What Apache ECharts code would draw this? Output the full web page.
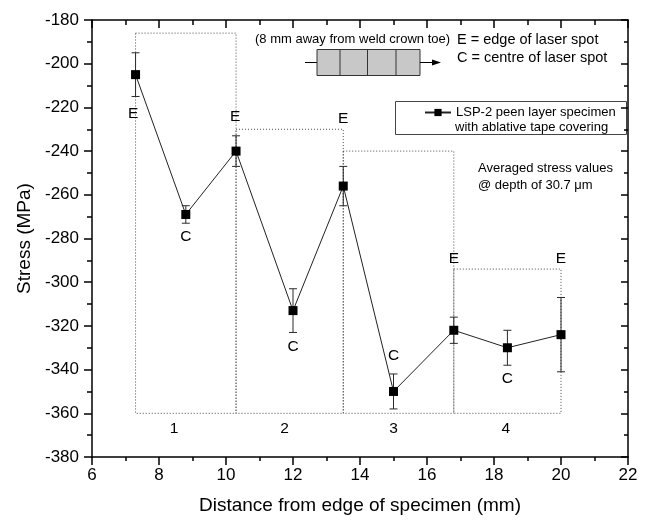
<!DOCTYPE html>
<html>
<head>
<meta charset="utf-8">
<script src="https://cdn.jsdelivr.net/npm/echarts@6/dist/echarts.min.js"></script>
<style>
  html, body { margin: 0; padding: 0; background: #fff; }
  #chart { width: 649px; height: 520px; }
</style>
</head>
<body>
<div id="chart"></div>
<script>
// Measurement positions (mm from specimen edge) and averaged stress (MPa)
const distance = [7.3, 8.8, 10.3, 12.0, 13.5, 15.0, 16.8, 18.4, 20.0];
const stress   = [-205, -269, -240, -313, -256, -350, -322, -330, -324];
const errUp    = [10, 4, 7, 10, 9, 8, 6, 8, 17];
const errDown  = [10, 4, 7, 10, 9, 8, 6, 8, 17];

// E = edge of laser spot, C = centre of laser spot (tag text and where it sits)
const tagText = ['E', 'C', 'E', 'C', 'E', 'C', 'E', 'C', 'E'];
const tagX    = [7.23, 8.8, 10.27, 12.0, 13.5, 15.0, 16.8, 18.4, 20.0];
const tagY    = [-223, -279, -224.3, -329.5, -225.4, -333.8, -289.4, -344, -289.1];

// Laser spot footprints (dotted boxes) and their numbers
const spotStart  = [7.3, 10.3, 13.5, 16.8];
const spotEnd    = [10.3, 13.5, 16.8, 20.0];
const spotTop    = [-186, -230, -240, -294];
const spotBottom = -360;
const spotName   = ['1', '2', '3', '4'];
const spotNameX  = [8.45, 11.75, 15.0, 18.35];
const spotNameY  = -367;

// Axis ranges
const xMin = 6, xMax = 22, xStep = 2;
const yMin = -380, yMax = -180, yStep = 20;

const seriesName = 'LSP-2 peen layer specimen';
const FONT = '"Liberation Sans", Arial, sans-serif';

const lineData = distance.map((d, i) => [d, stress[i]]);
const errData  = distance.map((d, i) => [d, stress[i] - errDown[i], stress[i] + errUp[i]]);
const tagData  = tagX.map((x, i) => [x, tagY[i]]);
const spotNameData = spotNameX.map(x => [x, spotNameY]);
const spotAreas = spotStart.map((s, i) => [
  { coord: [s, spotTop[i]] },
  { coord: [spotEnd[i], spotBottom] }
]);

const chart = echarts.init(document.getElementById('chart'), null, { renderer: 'canvas' });

const axisCommon = {
  axisLine: { show: true, onZero: false, lineStyle: { color: '#000', width: 1.5 } },
  splitLine: { show: false },
  minorSplitLine: { show: false }
};

function mainAxis(extra) {
  return Object.assign({}, axisCommon, extra);
}

const option = {
  animation: false,
  backgroundColor: '#fff',
  textStyle: { fontFamily: FONT },
  grid: { left: 92, right: 21, top: 20, bottom: 63, outerBoundsMode: 'none' },
  legend: {
    data: [seriesName],
    left: 424, top: 106,
    itemWidth: 26, itemHeight: 9, itemGap: 0, padding: 0,
    selectedMode: false,
    textStyle: { fontSize: 13, fontFamily: FONT, color: '#000' }
  },
  xAxis: [
    mainAxis({
      type: 'value', position: 'bottom', min: xMin, max: xMax, interval: xStep,
      name: 'Distance from edge of specimen (mm)', nameLocation: 'middle', nameGap: 39,
      nameTextStyle: { fontSize: 19, color: '#000', fontFamily: FONT },
      axisTick: { show: true, inside: false, length: 8, lineStyle: { color: '#000', width: 1.5 } },
      minorTick: { show: true, splitNumber: 2, length: 4, lineStyle: { color: '#000', width: 1.5 } },
      axisLabel: { show: true, margin: 10, fontSize: 17, color: '#000', fontFamily: FONT }
    }),
    mainAxis({
      type: 'value', position: 'top', min: xMin, max: xMax, interval: xStep,
      axisTick: { show: true, inside: true, length: 8, lineStyle: { color: '#000', width: 1.5 } },
      minorTick: { show: true, splitNumber: 2, length: 5, lineStyle: { color: '#000', width: 1.5 } },
      axisLabel: { show: false }
    })
  ],
  yAxis: [
    mainAxis({
      type: 'value', position: 'left', min: yMin, max: yMax, interval: yStep,
      name: 'Stress (MPa)', nameLocation: 'middle', nameGap: 57,
      nameTextStyle: { fontSize: 19, color: '#000', fontFamily: FONT },
      axisTick: { show: true, inside: false, length: 8, lineStyle: { color: '#000', width: 1.5 } },
      minorTick: { show: true, splitNumber: 2, length: 5, lineStyle: { color: '#000', width: 1.5 } },
      axisLabel: { show: true, margin: 13, fontSize: 17, color: '#000', fontFamily: FONT }
    }),
    mainAxis({
      type: 'value', position: 'right', min: yMin, max: yMax, interval: yStep,
      axisTick: { show: true, inside: true, length: 7, lineStyle: { color: '#000', width: 1.5 } },
      minorTick: { show: true, splitNumber: 2, length: 4, lineStyle: { color: '#000', width: 1.5 } },
      axisLabel: { show: false }
    })
  ],
  series: [
    {
      // dotted laser-spot footprints
      type: 'custom',
      name: 'spots',
      silent: true,
      xAxisIndex: 0, yAxisIndex: 0,
      data: [],
      renderItem: () => null,
      markArea: {
        silent: true,
        itemStyle: { color: 'rgba(0,0,0,0)', borderColor: '#4a4a4a', borderWidth: 1, borderType: [1, 2] },
        label: { show: false },
        data: spotAreas
      },
      z: 1
    },
    {
      // error bars
      type: 'custom',
      name: 'error',
      silent: true,
      data: errData,
      renderItem: (params, api) => {
        const x = api.value(0);
        const lo = api.coord([x, api.value(1)]);
        const hi = api.coord([x, api.value(2)]);
        const hw = 4;
        const st = { stroke: '#2a2a2a', lineWidth: 1 };
        return {
          type: 'group',
          children: [
            { type: 'line', shape: { x1: hi[0], y1: hi[1], x2: lo[0], y2: lo[1] }, style: st },
            { type: 'line', shape: { x1: hi[0] - hw, y1: hi[1], x2: hi[0] + hw, y2: hi[1] }, style: st },
            { type: 'line', shape: { x1: lo[0] - hw, y1: lo[1], x2: lo[0] + hw, y2: lo[1] }, style: st }
          ]
        };
      },
      z: 2
    },
    {
      type: 'line',
      name: seriesName,
      data: lineData,
      symbol: 'rect',
      symbolSize: 9,
      showSymbol: true,
      lineStyle: { color: '#222', width: 1 },
      itemStyle: { color: '#000', borderWidth: 0 },
      z: 3
    },
    {
      // E / C tags
      type: 'custom',
      name: 'tags',
      silent: true,
      data: tagData,
      renderItem: (params, api) => {
        const p = api.coord([api.value(0), api.value(1)]);
        return {
          type: 'text', x: p[0], y: p[1],
          style: { text: tagText[params.dataIndex], fill: '#000', fontSize: 15.5, fontFamily: FONT, align: 'center', verticalAlign: 'middle' }
        };
      },
      z: 4
    },
    {
      // spot numbers
      type: 'custom',
      name: 'spotNames',
      silent: true,
      data: spotNameData,
      renderItem: (params, api) => {
        const p = api.coord([api.value(0), api.value(1)]);
        return {
          type: 'text', x: p[0], y: p[1],
          style: { text: spotName[params.dataIndex], fill: '#000', fontSize: 15.5, fontFamily: FONT, align: 'center', verticalAlign: 'middle' }
        };
      },
      z: 4
    }
  ],
  graphic: [
    // specimen schematic
    { type: 'text', left: 255, top: 33, style: { text: '(8 mm away from weld crown toe)', fontSize: 13, fontFamily: FONT, fill: '#000' } },
    { type: 'line', shape: { x1: 305, y1: 62.5, x2: 317, y2: 62.5 }, style: { stroke: '#000', lineWidth: 1 } },
    { type: 'rect', shape: { x: 317, y: 49.5, width: 103, height: 26 }, style: { fill: '#c8c8c8', stroke: '#333', lineWidth: 1 } },
    { type: 'line', shape: { x1: 340, y1: 49.5, x2: 340, y2: 75.5 }, style: { stroke: '#333', lineWidth: 1 } },
    { type: 'line', shape: { x1: 367.5, y1: 49.5, x2: 367.5, y2: 75.5 }, style: { stroke: '#333', lineWidth: 1 } },
    { type: 'line', shape: { x1: 396, y1: 49.5, x2: 396, y2: 75.5 }, style: { stroke: '#333', lineWidth: 1 } },
    { type: 'line', shape: { x1: 420, y1: 62.5, x2: 433, y2: 62.5 }, style: { stroke: '#000', lineWidth: 1 } },
    { type: 'polygon', shape: { points: [[432, 59.5], [441, 62.5], [432, 65.5]] }, style: { fill: '#000' } },
    // key for the tags
    { type: 'text', left: 457, top: 32, style: { text: 'E = edge of laser spot', fontSize: 14.5, fontFamily: FONT, fill: '#000' } },
    { type: 'text', left: 457, top: 50.5, style: { text: 'C = centre of laser spot', fontSize: 14.5, fontFamily: FONT, fill: '#000' } },
    // legend frame and second legend line
    { type: 'rect', shape: { x: 395.5, y: 101.5, width: 231, height: 33 }, style: { fill: 'none', stroke: '#444', lineWidth: 1 }, z: -1 },
    { type: 'text', left: 455, top: 121, style: { text: 'with ablative tape covering', fontSize: 13, fontFamily: FONT, fill: '#000' } },
    // measurement note
    { type: 'text', left: 478, top: 162, style: { text: 'Averaged stress values', fontSize: 13, fontFamily: FONT, fill: '#000' } },
    { type: 'text', left: 478, top: 178.5, style: { text: '@ depth of 30.7 μm', fontSize: 13, fontFamily: FONT, fill: '#000' } }
  ]
};

chart.setOption(option);
</script>
</body>
</html>
